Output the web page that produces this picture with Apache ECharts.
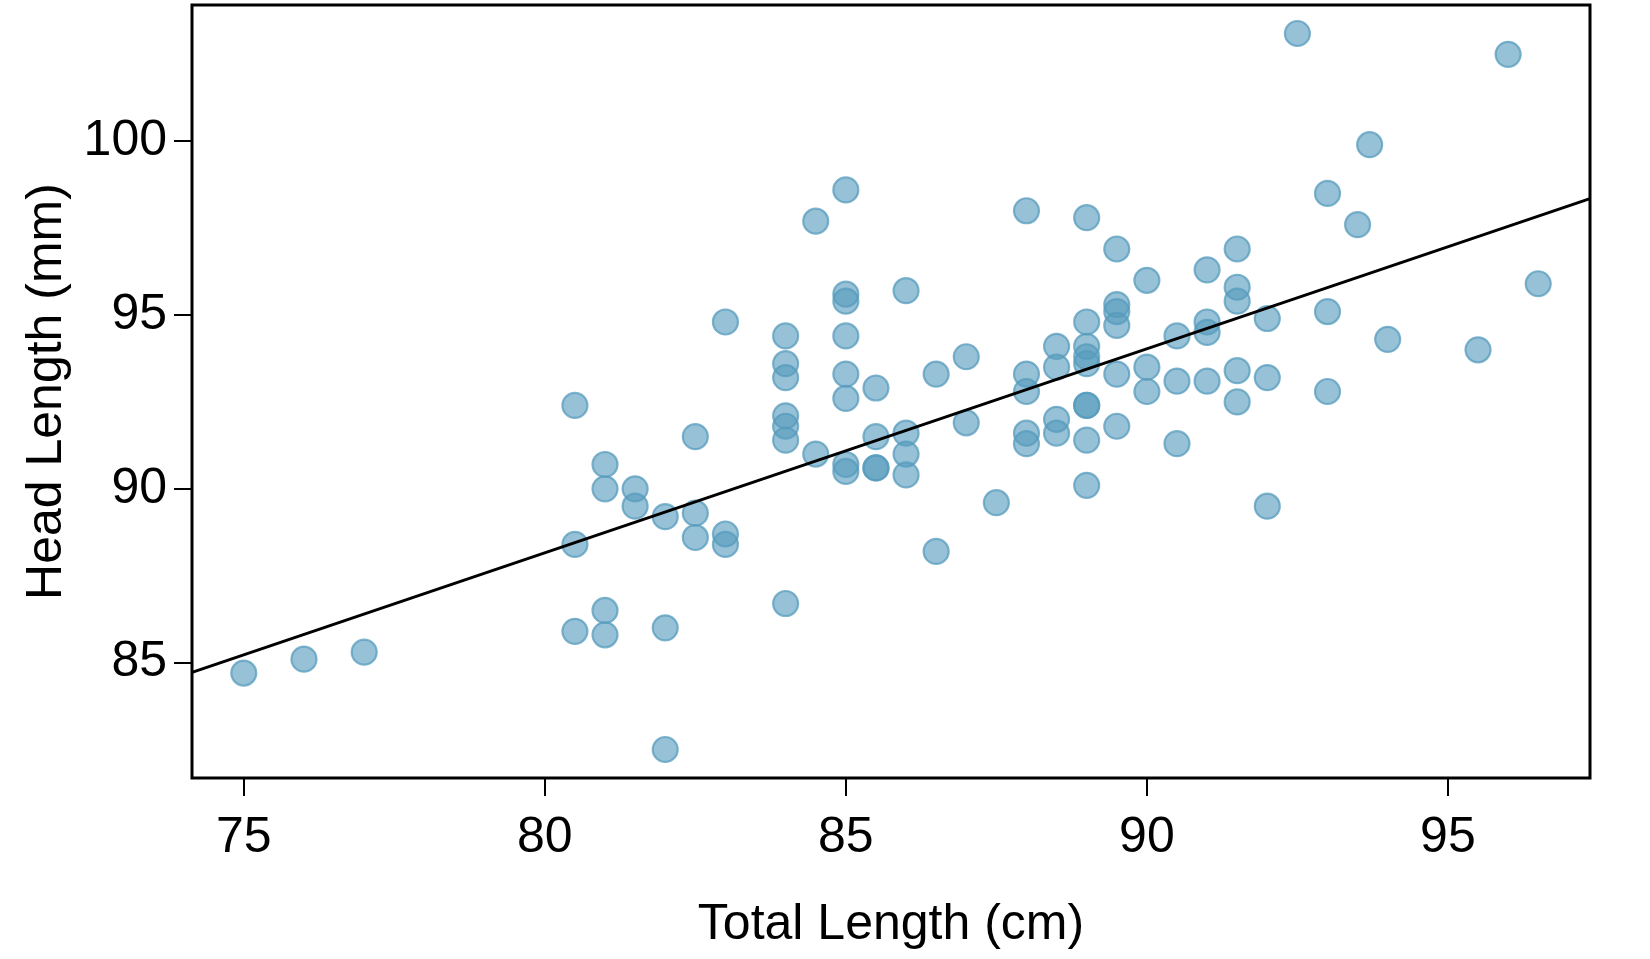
<!DOCTYPE html>
<html>
<head>
<meta charset="utf-8">
<title>Head Length vs Total Length</title>
<script src="https://cdn.jsdelivr.net/npm/echarts@6.0.0/dist/echarts.min.js"></script>
<style>
    html, body {
        margin: 0;
        padding: 0;
        background: #fff;
    }
    #chart {
        width: 1650px;
        height: 959px;
    }
</style>
</head>
<body>
<div id="chart"></div>
<script>
// total length (cm) of each possum
const totalLength = [
    75, 76, 77,
    80.5, 80.5, 80.5,
    81, 81, 81, 81,
    81.5, 81.5,
    82, 82, 82,
    82.5, 82.5, 82.5,
    83, 83, 83,
    84, 84, 84, 84, 84, 84, 84,
    84.5, 84.5,
    85, 85, 85, 85, 85, 85, 85, 85,
    85.5, 85.5, 85.5, 85.5,
    86, 86, 86, 86,
    86.5, 86.5,
    87, 87,
    87.5,
    88, 88, 88, 88, 88,
    88.5, 88.5, 88.5, 88.5,
    89, 89, 89, 89, 89, 89, 89, 89, 89,
    89.5, 89.5, 89.5, 89.5, 89.5, 89.5,
    90, 90, 90,
    90.5, 90.5, 90.5,
    91, 91, 91, 91,
    91.5, 91.5, 91.5, 91.5, 91.5,
    92, 92, 92,
    92.5,
    93, 93, 93,
    93.5,
    93.7,
    94,
    95.5,
    96,
    96.5
]

// head length (mm), same order as totalLength
const headLength = [
    84.7, 85.1, 85.3,
    92.4, 88.4, 85.9,
    90.7, 90.0, 86.5, 85.8,
    90.0, 89.5,
    89.2, 86.0, 82.5,
    91.5, 89.3, 88.6,
    94.8, 88.7, 88.4,
    94.4, 93.6, 93.2, 92.1, 91.8, 91.4, 86.7,
    97.7, 91.0,
    98.6, 95.6, 95.4, 94.4, 93.3, 92.6, 90.7, 90.5,
    92.9, 91.5, 90.6, 90.6,
    95.7, 91.6, 91.0, 90.4,
    93.3, 88.2,
    93.8, 91.9,
    89.6,
    98.0, 93.3, 92.8, 91.6, 91.3,
    94.1, 93.5, 92.0, 91.6,
    97.8, 94.8, 94.1, 93.8, 93.6, 92.4, 92.4, 91.4, 90.1,
    96.9, 95.3, 95.1, 94.7, 93.3, 91.8,
    96.0, 93.5, 92.8,
    94.4, 93.1, 91.3,
    96.3, 94.8, 94.5, 93.1,
    96.9, 95.8, 95.4, 93.4, 92.5,
    94.9, 93.2, 89.5,
    103.1,
    98.5, 95.1, 92.8,
    97.6,
    99.9,
    94.3,
    94.0,
    102.5,
    95.9
]

const xTicks = [75, 80, 85, 90, 95]
const yTicks = [85, 90, 95, 100]

// least squares line
const fitIntercept = 41.2
const fitSlope = 0.587

const xMin = 74.14
const xMax = 97.36
const yMin = 81.68
const yMax = 103.92

const points = totalLength.map((x, i) => [x, headLength[i]])
const fitLine = [xMin, xMax].map(x => [x, fitIntercept + fitSlope * x])

const font = '"Liberation Sans", Arial, Helvetica, sans-serif'

let mycharts = echarts.init(document.getElementById('chart'))
let option = {
    animation: false,
    textStyle: {
        fontFamily: font
    },
    grid: {
        left: 192,
        right: 60,
        top: 5,
        bottom: 181,
        show: true,
        borderColor: '#000',
        borderWidth: 3,
        backgroundColor: 'transparent'
    },
    xAxis: {
        type: 'value',
        min: xMin,
        max: xMax,
        name: 'Total Length (cm)',
        nameLocation: 'middle',
        nameGap: 122,
        nameTextStyle: {
            fontSize: 50,
            color: '#000',
            fontFamily: font
        },
        axisLine: {
            show: false
        },
        axisTick: {
            show: true,
            inside: false,
            length: 18,
            customValues: xTicks,
            lineStyle: {
                color: '#000',
                width: 2
            }
        },
        axisLabel: {
            customValues: xTicks,
            margin: 35,
            fontSize: 50,
            color: '#000',
            fontFamily: font
        },
        splitLine: {
            show: false
        }
    },
    yAxis: {
        type: 'value',
        min: yMin,
        max: yMax,
        name: 'Head Length (mm)',
        nameLocation: 'middle',
        nameGap: 114,
        nameTextStyle: {
            fontSize: 50,
            color: '#000',
            fontFamily: font
        },
        axisLine: {
            show: false
        },
        axisTick: {
            show: true,
            inside: false,
            length: 18,
            customValues: yTicks,
            lineStyle: {
                color: '#000',
                width: 2
            }
        },
        axisLabel: {
            customValues: yTicks,
            margin: 25,
            fontSize: 50,
            color: '#000',
            fontFamily: font
        },
        splitLine: {
            show: false
        }
    },
    series: [
        {
            type: 'scatter',
            data: points,
            symbol: 'circle',
            symbolSize: 25,
            itemStyle: {
                color: 'rgba(86, 155, 189, 0.78)',
                borderColor: 'rgba(86, 155, 189, 0.92)',
                borderWidth: 2.2
            },
            emphasis: {
                disabled: true
            },
            z: 2
        },
        {
            type: 'line',
            data: fitLine,
            symbol: 'none',
            lineStyle: {
                color: '#000',
                width: 3
            },
            z: 3
        }
    ]
}
mycharts.setOption(option)
window.addEventListener('resize', function () {
    mycharts.resize()
})
</script>
</body>
</html>
